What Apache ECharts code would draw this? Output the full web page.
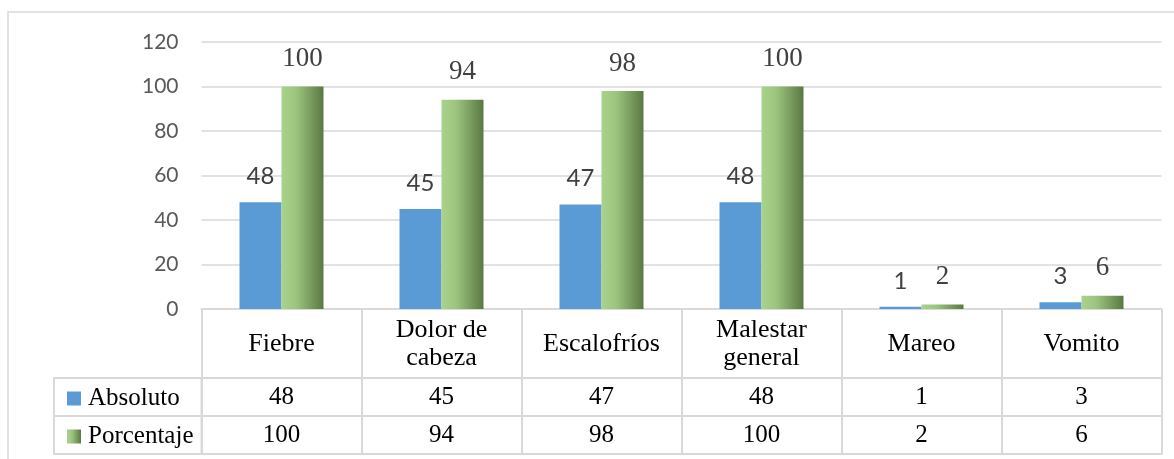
<!DOCTYPE html>
<html>
<head>
<meta charset="utf-8">
<script src="https://cdn.jsdelivr.net/npm/echarts@6/dist/echarts.min.js"></script>
<style>
html,body{margin:0;padding:0;background:#fff;}
#chart{width:1174px;height:459px;}
</style>
</head>
<body>
<div id="chart"></div>
<script>
var categories = ['Fiebre', 'Dolor de\ncabeza', 'Escalofríos', 'Malestar\ngeneral', 'Mareo', 'Vomito'];
var absoluto = [48, 45, 47, 48, 1, 3];
var porcentaje = [100, 94, 98, 100, 2, 6];
var seriesNames = ['Absoluto', 'Porcentaje'];
var yTicks = { min: 0, max: 120, interval: 20 };

var chart = echarts.init(document.getElementById('chart'));
var lineColor = '#d9d9d9';
var serif = 'Liberation Serif';
var sans = 'Lato';

var greenGrad = new echarts.graphic.LinearGradient(0, 0, 1, 0, [
  { offset: 0, color: '#a9d38b' },
  { offset: 0.35, color: '#9cc47f' },
  { offset: 1, color: '#5a7843' }
]);

function rowAxis(offset, values, showLabel) {
  return {
    type: 'category',
    data: categories,
    position: 'bottom',
    offset: offset,
    gridIndex: 0,
    axisLine: { show: true, lineStyle: { color: lineColor, width: 2 } },
    axisTick: { show: false },
    axisLabel: {
      show: showLabel,
      interval: 0,
      margin: 19,
      verticalAlign: 'middle',
      fontFamily: serif,
      fontSize: 25,
      color: '#000',
      formatter: function (v, i) { return values ? String(values[i]) : ''; }
    },
    splitLine: { show: false }
  };
}

chart.setOption({
  animation: false,
  backgroundColor: '#fff',
  grid: { left: 201.5, right: 12.5, top: 42, bottom: 150 },
  legend: {
    orient: 'vertical',
    left: 62,
    top: 381,
    icon: 'rect',
    itemWidth: 14,
    itemHeight: 14,
    itemGap: 13,
    data: seriesNames,
    textStyle: { fontFamily: serif, fontSize: 25, color: '#000', lineHeight: 25, padding: [0, 0, 0, 2] }
  },
  xAxis: [
    {
      type: 'category',
      data: categories,
      position: 'bottom',
      axisLine: { show: true, lineStyle: { color: lineColor, width: 2 } },
      axisTick: { show: true, length: 145, lineStyle: { color: lineColor, width: 2 } },
      axisLabel: {
        interval: 0,
        margin: 35,
        verticalAlign: 'middle',
        fontFamily: serif,
        fontSize: 26,
        lineHeight: 28,
        color: '#000'
      }
    },
    rowAxis(69, absoluto, true),
    rowAxis(107, porcentaje, true),
    rowAxis(145, null, false)
  ],
  yAxis: {
    type: 'value',
    min: yTicks.min,
    max: yTicks.max,
    interval: yTicks.interval,
    axisLine: { show: false },
    axisTick: { show: false },
    axisLabel: { margin: 23, fontFamily: sans, fontSize: 21, color: '#595959' },
    splitLine: { lineStyle: { color: lineColor, width: 1.5 } }
  },
  series: [
    {
      name: seriesNames[0],
      type: 'bar',
      data: absoluto,
      barWidth: 42,
      barGap: '0%',
      itemStyle: { color: '#5b9bd5' },
      label: { show: true, position: 'top', distance: 14, fontFamily: sans, fontSize: 24, color: '#404040' }
    },
    {
      name: seriesNames[1],
      type: 'bar',
      data: porcentaje,
      barWidth: 42,
      barGap: '0%',
      itemStyle: { color: greenGrad },
      label: { show: true, position: 'top', distance: 14, fontFamily: serif, fontSize: 27, color: '#404040' }
    }
  ],
  graphic: [
    {
      type: 'rect',
      shape: { x: 8, y: 12, width: 1200, height: 500 },
      style: { fill: 'none', stroke: lineColor, lineWidth: 1.5 },
      silent: true
    },
    {
      type: 'rect',
      shape: { x: 54, y: 378, width: 147.5, height: 76 },
      style: { fill: 'none', stroke: lineColor, lineWidth: 2 },
      silent: true
    },
    {
      type: 'line',
      shape: { x1: 54, y1: 416, x2: 201.5, y2: 416 },
      style: { stroke: lineColor, lineWidth: 2 },
      silent: true
    }
  ]
});
</script>
</body>
</html>
